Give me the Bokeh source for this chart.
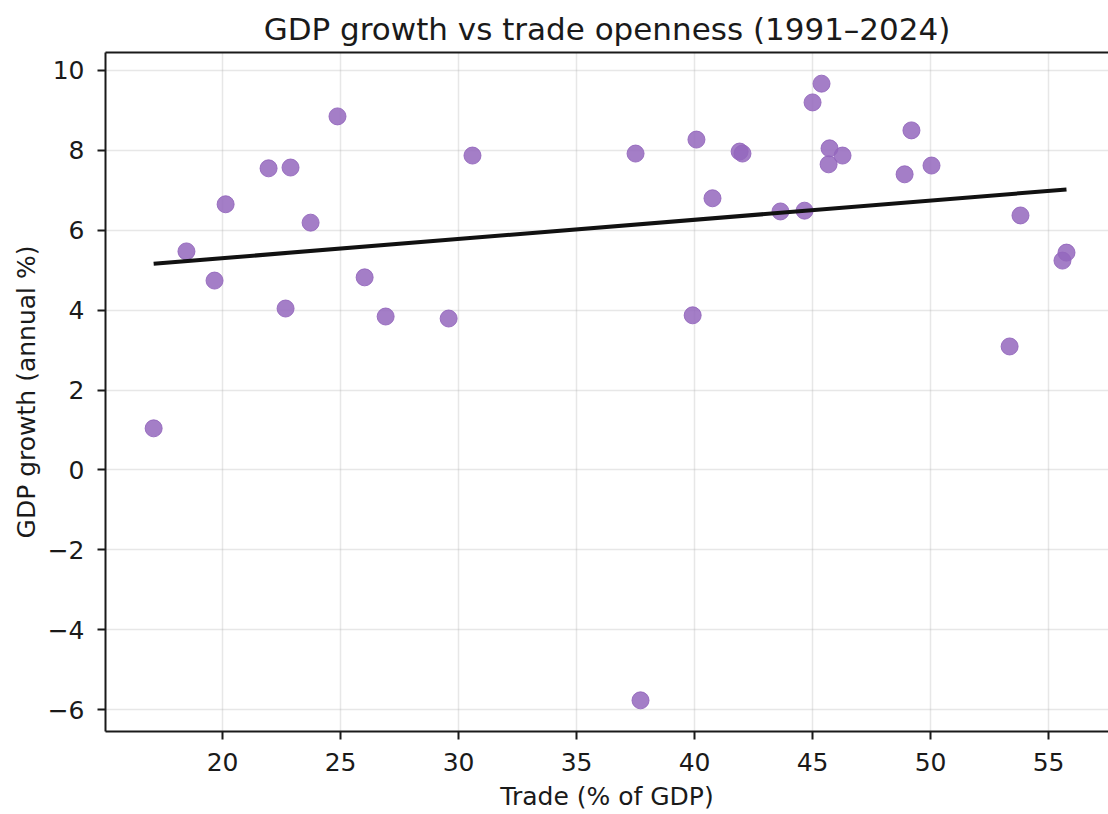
import numpy as np
from bokeh.plotting import figure
from bokeh.models import Range1d, FixedTicker, LinearAxis, CustomJSTickFormatter, ColumnDataSource
from bokeh.embed import file_html
from bokeh.resources import INLINE

# Data
trade_pct_gdp = [17.08, 18.47, 19.66, 20.13, 21.95, 22.88, 22.67, 23.73, 24.87, 26.02,
                 26.91, 29.58, 30.59, 37.50, 37.71, 40.08, 39.92, 40.76, 41.91, 42.03,
                 43.64, 44.66, 45.00, 45.38, 45.72, 45.68, 46.27, 49.19, 48.90, 50.04,
                 53.81, 53.35, 55.59, 55.76]
gdp_growth = [1.04, 5.47, 4.74, 6.65, 7.55, 7.57, 4.04, 6.19, 8.85, 4.82,
              3.84, 3.79, 7.87, 7.92, -5.77, 8.27, 3.87, 6.80, 7.97, 7.92,
              6.47, 6.49, 9.20, 9.67, 8.05, 7.65, 7.87, 8.50, 7.40, 7.62,
              6.37, 3.09, 5.24, 5.44]
x_ticks = [20, 25, 30, 35, 40, 45, 50, 55]
y_ticks = [-6, -4, -2, 0, 2, 4, 6, 8, 10]

title_text = "GDP growth vs trade openness (1991\u20132024)"
x_label = "Trade (% of GDP)"
y_label = "GDP growth (annual %)"

FONT = "DejaVu Sans"

x = np.array(trade_pct_gdp)
y = np.array(gdp_growth)
slope, intercept = np.polyfit(x, y, 1)
fit_x = np.array([x.min(), x.max()])
fit_y = slope * fit_x + intercept

p = figure(width=1108, height=814, output_backend="svg", toolbar_location=None,
           x_range=Range1d(15.04, 57.54), y_range=Range1d(-6.55, 10.45),
           min_border_left=105, min_border_right=0, min_border_top=52, min_border_bottom=83,
           title=title_text)
p.outline_line_color = None
p.background_fill_color = "white"
p.border_fill_color = "white"

p.title.text_font = FONT
p.title.text_font_size = "31px"
p.title.text_font_style = "normal"
p.title.text_color = "#1a1a1a"
p.title.align = "center"
p.title.standoff = 11

for ax in (p.xaxis[0], p.yaxis[0]):
    ax.axis_line_color = "#1a1a1a"
    ax.axis_line_width = 2
    ax.major_tick_line_color = "#1a1a1a"
    ax.major_tick_line_width = 2
    ax.major_tick_out = 8
    ax.major_tick_in = 0
    ax.minor_tick_line_color = None
    ax.major_label_text_font = FONT
    ax.major_label_text_font_size = "25px"
    ax.major_label_text_color = "#1a1a1a"
    ax.axis_label_text_font = FONT
    ax.axis_label_text_font_size = "25px"
    ax.axis_label_text_font_style = "normal"
    ax.axis_label_text_color = "#1a1a1a"

p.xaxis[0].ticker = FixedTicker(ticks=x_ticks)
p.yaxis[0].ticker = FixedTicker(ticks=y_ticks)
p.xaxis[0].axis_label = x_label
p.yaxis[0].axis_label = y_label
p.xaxis[0].major_label_standoff = 13
p.yaxis[0].major_label_standoff = 13
p.xaxis[0].axis_label_standoff = 8
p.yaxis[0].axis_label_standoff = 4
p.yaxis[0].formatter = CustomJSTickFormatter(code="return String(tick).replace('-', '\\u2212');")

top = LinearAxis(ticker=FixedTicker(ticks=[]), axis_line_color="#1a1a1a", axis_line_width=2,
                 major_tick_line_color=None, minor_tick_line_color=None,
                 major_label_text_font_size="0px")
p.add_layout(top, "above")

p.xgrid.ticker = FixedTicker(ticks=x_ticks)
p.ygrid.ticker = FixedTicker(ticks=y_ticks)
for g in (p.xgrid[0], p.ygrid[0]):
    g.grid_line_color = "#b0b0b0"
    g.grid_line_alpha = 0.3
    g.grid_line_width = 1.5

src = ColumnDataSource(dict(x=trade_pct_gdp, y=gdp_growth))
p.scatter("x", "y", source=src, size=17, fill_color="#9467bd", fill_alpha=0.85,
          line_color="#9467bd", line_alpha=0.9, line_width=1)
p.line(fit_x, fit_y, line_color="#111111", line_width=4)

open("out.html", "w").write(file_html(p, INLINE))
